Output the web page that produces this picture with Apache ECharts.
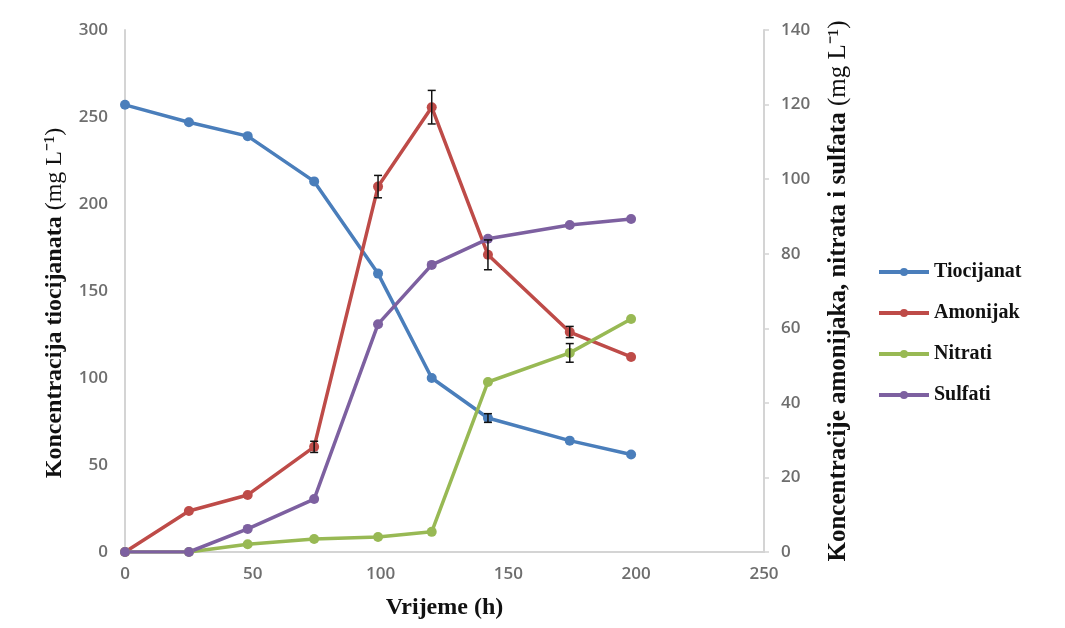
<!DOCTYPE html>
<html>
<head>
<meta charset="utf-8">
<script src="https://cdn.jsdelivr.net/npm/echarts@6/dist/echarts.min.js"></script>
<style>
html,body{margin:0;padding:0;background:#fff;}
#c{width:1065px;height:628px;}
</style>
</head>
<body>
<div id="c"></div>
<script>
// ---- data ----
const times = [0, 25, 48, 74, 99, 120, 142, 174, 198];
const tiocijanat = [257, 247, 239, 213, 160, 100, 77, 64, 56];
const tiocijanatErr = [0, 0, 0, 0, 0, 0, 2.5, 0, 0];
const amonijak = [0, 11, 15.3, 28.2, 98, 119.3, 79.7, 59, 52.3];
const amonijakErr = [0, 0, 0, 1.5, 3, 4.5, 4, 1.5, 0];
const nitrati = [0, 0, 2.1, 3.5, 4, 5.4, 45.6, 53.4, 62.5];
const nitratiErr = [0, 0, 0, 0, 0, 0, 0, 2.5, 0];
const sulfati = [0, 0, 6.2, 14.2, 61.1, 77, 84, 87.7, 89.3];
const sulfatiErr = [0, 0, 0, 0, 0, 0, 0, 0, 0];
const seriesNames = ['Tiocijanat', 'Amonijak', 'Nitrati', 'Sulfati'];
const xTitle = 'Vrijeme (h)';
const leftTitle = 'Koncentracija tiocijanata';
const rightTitle = 'Koncentracije amonijaka, nitrata i sulfata';
const unitText = ' (mg L⁻¹)';

const colors = ['#4A7EBB', '#BE4B48', '#98B954', '#7D60A0'];

function pairs(vals) { return times.map((t, i) => [t, vals[i]]); }
function errPairs(vals, errs) {
  const out = [];
  times.forEach((t, i) => { if (errs[i] > 0) out.push([t, vals[i] - errs[i], vals[i] + errs[i]]); });
  return out;
}

function lineSeries(name, vals, color, yIdx) {
  return {
    name: name, type: 'line', yAxisIndex: yIdx, data: pairs(vals),
    symbol: 'circle', symbolSize: 10,
    lineStyle: { color: color, width: 3.5 },
    itemStyle: { color: color },
    emphasis: { disabled: true }, z: 3
  };
}
function errSeries(vals, errs, yIdx) {
  return {
    type: 'custom', yAxisIndex: yIdx, data: errPairs(vals, errs), z: 4, silent: true,
    renderItem: function (params, api) {
      const hi = api.coord([api.value(0), api.value(2)]);
      const lo = api.coord([api.value(0), api.value(1)]);
      const w = 4;
      const st = { stroke: '#111', lineWidth: 1.5 };
      return { type: 'group', children: [
        { type: 'line', shape: { x1: hi[0], y1: hi[1], x2: lo[0], y2: lo[1] }, style: st },
        { type: 'line', shape: { x1: hi[0] - w, y1: hi[1], x2: hi[0] + w, y2: hi[1] }, style: st },
        { type: 'line', shape: { x1: lo[0] - w, y1: lo[1], x2: lo[0] + w, y2: lo[1] }, style: st }
      ]};
    }
  };
}

const tickFont = { color: '#6e6e6e', fontSize: 17, fontWeight: 600, fontFamily: 'Open Sans' };
const nameRich = {
  b: { fontFamily: 'Liberation Serif', fontWeight: 'bold', fontSize: 24, color: '#111' },
  n: { fontFamily: 'Liberation Serif', fontWeight: 'normal', fontSize: 24, color: '#111' }
};
const nameRichR = {
  b: { fontFamily: 'Liberation Serif', fontWeight: 'bold', fontSize: 25, color: '#111' },
  n: { fontFamily: 'Liberation Serif', fontWeight: 'normal', fontSize: 25, color: '#111' }
};

const chart = echarts.init(document.getElementById('c'), null, { renderer: 'canvas' });
chart.setOption({
  animation: false,
  backgroundColor: '#fff',
  color: colors,
  grid: { left: 125, right: 301, top: 30, bottom: 76, containLabel: false },
  legend: {
    data: seriesNames,
    orient: 'vertical', left: 872, top: 257,
    itemWidth: 50, itemHeight: 10, itemGap: 21,
    lineStyle: { width: 4 },
    textStyle: { fontFamily: 'Liberation Serif', fontWeight: 'bold', fontSize: 20, color: '#111', lineHeight: 20 },
    selectedMode: false
  },
  xAxis: {
    type: 'value', min: 0, max: 250, interval: 50,
    name: xTitle, nameLocation: 'middle', nameGap: 44,
    nameTextStyle: { fontFamily: 'Liberation Serif', fontWeight: 'bold', fontSize: 24, color: '#111' },
    axisLine: { lineStyle: { color: '#d4d4d4', width: 2 } },
    axisTick: { show: false },
    splitLine: { show: false },
    axisLabel: Object.assign({ margin: 14 }, tickFont)
  },
  yAxis: [
    {
      type: 'value', min: 0, max: 300, interval: 50, position: 'left',
      name: '{b|' + leftTitle + '}{n|' + unitText + '}',
      nameLocation: 'middle', nameGap: 58, nameRotate: 90,
      nameTextStyle: { rich: nameRich, padding: [0, 24, 0, 0] },
      axisLine: { show: true, lineStyle: { color: '#d4d4d4', width: 2 } },
      axisTick: { show: false },
      splitLine: { show: false },
      axisLabel: Object.assign({ margin: 17 }, tickFont)
    },
    {
      type: 'value', min: 0, max: 140, interval: 20, position: 'right',
      name: '{b|' + rightTitle + '}{n|' + unitText + '}',
      nameLocation: 'middle', nameGap: 62, nameRotate: 90,
      nameTextStyle: { rich: nameRichR },
      axisLine: { show: true, lineStyle: { color: '#d4d4d4', width: 2 } },
      axisTick: { show: true, length: 5, lineStyle: { color: '#d4d4d4', width: 1.5 } },
      splitLine: { show: false },
      axisLabel: Object.assign({ margin: 17 }, tickFont)
    }
  ],
  series: [
    lineSeries(seriesNames[0], tiocijanat, colors[0], 0),
    lineSeries(seriesNames[1], amonijak, colors[1], 1),
    lineSeries(seriesNames[2], nitrati, colors[2], 1),
    lineSeries(seriesNames[3], sulfati, colors[3], 1),
    errSeries(tiocijanat, tiocijanatErr, 0),
    errSeries(amonijak, amonijakErr, 1),
    errSeries(nitrati, nitratiErr, 1),
    errSeries(sulfati, sulfatiErr, 1)
  ]
});
</script>
</body>
</html>
